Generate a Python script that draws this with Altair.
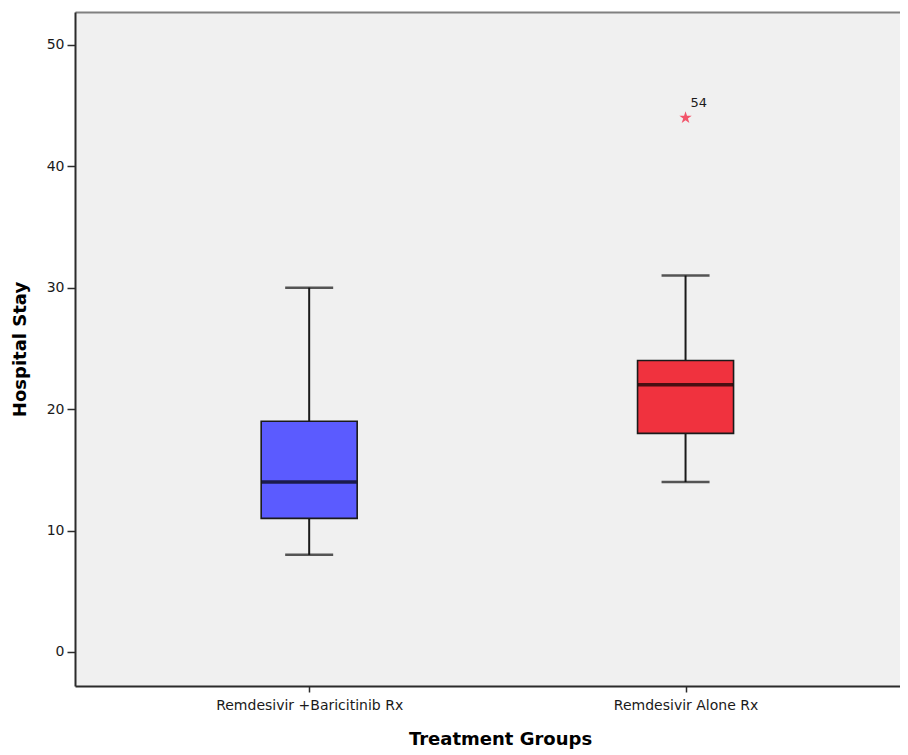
import json
import altair as alt
import pandas as pd

# ---- data ----
groups = ["Remdesivir +Baricitinib Rx", "Remdesivir Alone Rx"]
group_pos = [1, 2]
whisker_low = [8, 14]
q1 = [11, 18]
median = [14, 22]
q3 = [19, 24]
whisker_high = [30, 31]
box_colors = ["#5B5BFF", "#F0323E"]

outlier_pos = [2]
outlier_values = [44]
outlier_labels = ["54"]

box_df = pd.DataFrame({
    "group": groups, "pos": group_pos, "lo": whisker_low, "q1": q1,
    "med": median, "q3": q3, "hi": whisker_high, "color": box_colors,
})
out_df = pd.DataFrame({"pos": outlier_pos, "value": outlier_values, "label": outlier_labels})

FONT = "DejaVu Sans"
AX = "#2b2b2b"

xscale = alt.Scale(domain=[0.3911, 2.5565], nice=False, zero=False)
yscale = alt.Scale(domain=[-2.8, 52.7], nice=False, zero=False)

label_expr = json.dumps(groups) + "[datum.value - 1]"

x_bottom = alt.X("pos:Q", scale=xscale, axis=alt.Axis(
    values=group_pos, labelExpr=label_expr, title="Treatment Groups",
    orient="bottom", grid=False, domainColor=AX, domainWidth=2,
    tickColor=AX, tickWidth=1.5, tickSize=6, labelPadding=6, labelLimit=400,
    labelFont=FONT, labelFontSize=14, labelColor="#1a1a1a",
    titleFont=FONT, titleFontSize=18, titleFontWeight="bold", titleColor="#000",
    titlePadding=18, titleX=425, titleAlign="center"))

x_top = alt.X("pos:Q", scale=xscale, axis=alt.Axis(
    orient="top", labels=False, ticks=False, title=None, grid=False,
    domainColor="#808080", domainWidth=2))

x_plain = alt.X("pos:Q", scale=xscale, axis=None)

y_axis = alt.Axis(values=[0, 10, 20, 30, 40, 50], title="Hospital Stay", grid=False,
                  domainColor=AX, domainWidth=2, tickColor=AX, tickWidth=1.5,
                  tickSize=8, labelPadding=3, labelFont=FONT, labelFontSize=14,
                  labelColor="#1a1a1a", titleFont=FONT, titleFontSize=18,
                  titleFontWeight="bold", titleColor="#000", titlePadding=17)

base = alt.Chart(box_df)

whisk_lo = base.mark_rule(color="#1a1a1a", strokeWidth=2).encode(
    x=x_top, y=alt.Y("lo:Q", scale=yscale, axis=y_axis), y2="q1:Q")
whisk_hi = base.mark_rule(color="#1a1a1a", strokeWidth=2).encode(
    x=x_plain, y=alt.Y("q3:Q", scale=yscale), y2="hi:Q")

cap_lo = base.mark_tick(orient="horizontal", size=48, thickness=2.5, color="#111").encode(
    x=x_plain, y=alt.Y("lo:Q", scale=yscale))
cap_hi = base.mark_tick(orient="horizontal", size=48, thickness=2.5, color="#111").encode(
    x=x_plain, y=alt.Y("hi:Q", scale=yscale))

boxes = base.mark_bar(size=96, stroke="#1a1a1a", strokeWidth=1.6, opacity=1).encode(
    x=x_bottom, y=alt.Y("q1:Q", scale=yscale), y2="q3:Q",
    color=alt.Color("color:N", scale=None))

med = base.mark_tick(orient="horizontal", size=95, thickness=3.5, color="#000").encode(
    x=x_plain, y=alt.Y("med:Q", scale=yscale))

star_path = ("M0,-1L0.2245,-0.309L0.951,-0.309L0.363,0.118L0.588,0.809L0,0.382"
             "L-0.588,0.809L-0.363,0.118L-0.951,-0.309L-0.2245,-0.309Z")
outl = alt.Chart(out_df).mark_point(shape=star_path, size=170, filled=True,
                                    color="#F2546A", opacity=1).encode(
    x=x_plain, y=alt.Y("value:Q", scale=yscale))
outl_txt = alt.Chart(out_df).mark_text(align="left", dx=5, dy=-15, font=FONT,
                                       fontSize=13, color="#1a1a1a").encode(
    x=x_plain, y=alt.Y("value:Q", scale=yscale), text="label:N")

chart = alt.layer(whisk_lo, whisk_hi, cap_lo, cap_hi, boxes, med, outl, outl_txt).resolve_axis(
    x="independent"
).properties(
    width=825, height=674,
    autosize=alt.AutoSizeParams(type="none"),
    padding={"left": 67, "top": 4, "right": 0, "bottom": 66},
    background="white",
).configure_view(fill="#F0F0F0", stroke=None)

chart.save("out.html", embed_options={"renderer": "svg", "actions": False})
